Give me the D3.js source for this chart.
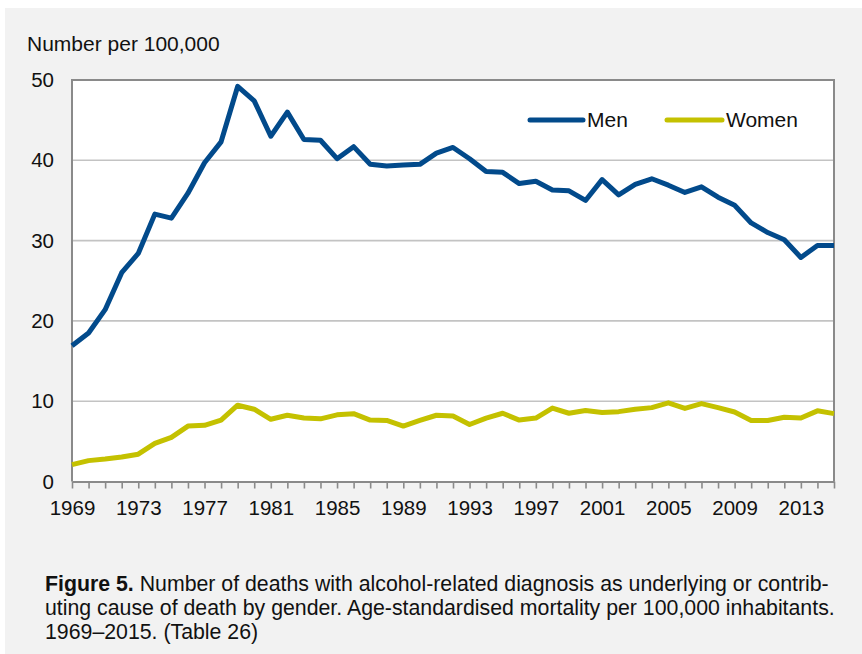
<!DOCTYPE html>
<html>
<head>
<meta charset="utf-8">
<script src="https://cdn.jsdelivr.net/npm/d3@7"></script>
<style>
  html, body { margin: 0; padding: 0; background: #ffffff; }
  svg { display: block; }
  text { font-family: "Liberation Sans", Arial, sans-serif; fill: #111; }
</style>
</head>
<body>
<svg id="chart" width="862" height="654"></svg>
<script>
const years = d3.range(1969, 2016);
const men = [16.9, 18.5, 21.4, 26.0, 28.4, 33.3, 32.8, 35.9, 39.7, 42.3,
             49.2, 47.4, 43.0, 46.0, 42.6, 42.5, 40.2, 41.7, 39.5, 39.3,
             39.4, 39.5, 40.9, 41.6, 40.2, 38.6, 38.5, 37.1, 37.4, 36.3,
             36.2, 35.0, 37.6, 35.7, 37.0, 37.7, 36.9, 36.0, 36.7, 35.4,
             34.4, 32.2, 31.0, 30.1, 27.9, 29.4, 29.4];
const women = [2.1, 2.6, 2.8, 3.05, 3.4, 4.75, 5.5, 6.9, 7.0, 7.65,
               9.5, 9.0, 7.75, 8.25, 7.9, 7.8, 8.3, 8.45, 7.65, 7.6,
               6.9, 7.6, 8.25, 8.15, 7.1, 7.9, 8.5, 7.65, 7.9, 9.15,
               8.5, 8.85, 8.6, 8.7, 9.0, 9.2, 9.8, 9.1, 9.7, 9.2,
               8.65, 7.6, 7.6, 8.0, 7.9, 8.8, 8.45];
const seriesNames = ["Men", "Women"];
const seriesColors = ["#024a8b", "#c4c100"];
const xTickLabels = [1969, 1973, 1977, 1981, 1985, 1989, 1993, 1997, 2001, 2005, 2009, 2013];
const yTicks = [0, 10, 20, 30, 40, 50];
const yAxisTitle = "Number per 100,000";
const captionBold = "Figure 5.";
const captionLines = [
  " Number of deaths with alcohol-related diagnosis as underlying or contrib-",
  "uting cause of death by gender. Age-standardised mortality per 100,000 inhabitants.",
  "1969\u20132015. (Table 26)"
];

const svg = d3.select("#chart");
const W = 862, H = 654;
const plot = { left: 72, right: 834, top: 80, bottom: 481.5 };
const FS = "21px";
const CAP_FS = "21.3px";

// gray panel background
svg.append("rect").attr("x", 5).attr("y", 8).attr("width", W - 5).attr("height", H - 8)
  .attr("fill", "#f2f2f2");

const x = d3.scaleLinear().domain([1969, 2015]).range([plot.left, plot.right]);
const y = d3.scaleLinear().domain([0, 50]).range([plot.bottom, plot.top]);

// plot area
svg.append("rect").attr("x", plot.left).attr("y", plot.top)
  .attr("width", plot.right - plot.left).attr("height", plot.bottom - plot.top)
  .attr("fill", "#ffffff");

// gridlines
svg.append("g").selectAll("line").data(yTicks.filter(d => d > 0 && d < 50)).join("line")
  .attr("x1", plot.left).attr("x2", plot.right)
  .attr("y1", d => y(d)).attr("y2", d => y(d))
  .attr("stroke", "#c3c3c3").attr("stroke-width", 1.6);

// border: top, left, right
const borderColor = "#8a8a8a";
svg.append("path")
  .attr("d", `M${plot.left},${plot.bottom}V${plot.top}H${plot.right}V${plot.bottom}`)
  .attr("fill", "none").attr("stroke", borderColor).attr("stroke-width", 2);

// x axis
const xAxis = d3.axisBottom(x).tickValues(years).tickSize(7).tickSizeOuter(0)
  .tickFormat(d => xTickLabels.includes(d) ? String(d) : "");
const gx = svg.append("g").attr("transform", `translate(0,${plot.bottom})`).call(xAxis);
gx.select(".domain").attr("stroke", borderColor).attr("stroke-width", 2);
gx.selectAll(".tick line").attr("stroke", borderColor).attr("stroke-width", 1.6);
gx.selectAll(".tick text").attr("dy", null).attr("y", 33.5)
  .style("font-family", '"Liberation Sans", Arial, sans-serif')
  .style("font-size", "20.5px").attr("fill", "#111");

// y axis labels
const yAxis = d3.axisLeft(y).tickValues(yTicks).tickSize(0).tickPadding(18);
const gy = svg.append("g").attr("transform", `translate(${plot.left},0)`).call(yAxis);
gy.select(".domain").remove();
gy.selectAll(".tick text")
  .style("font-family", '"Liberation Sans", Arial, sans-serif')
  .style("font-size", "20.5px").attr("fill", "#111");

// y axis title
svg.append("text").attr("x", 27).attr("y", 51).style("font-size", FS).text(yAxisTitle);

// lines
const line = d3.line().x((d, i) => x(years[i])).y(d => y(d));
[men, women].forEach((vals, k) => {
  svg.append("path").datum(vals)
    .attr("d", line)
    .attr("fill", "none")
    .attr("stroke", seriesColors[k])
    .attr("stroke-width", 5)
    .attr("stroke-linejoin", "round")
    .attr("stroke-linecap", "butt");
});

// legend
const legendItems = [
  { x1: 530, x2: 583, tx: 587 },
  { x1: 667, x2: 722, tx: 726 }
];
legendItems.forEach((it, k) => {
  svg.append("line").attr("x1", it.x1).attr("x2", it.x2).attr("y1", 120).attr("y2", 120)
    .attr("stroke", seriesColors[k]).attr("stroke-width", 5).attr("stroke-linecap", "round");
  svg.append("text").attr("x", it.tx).attr("y", 127).style("font-size", FS)
    .text(seriesNames[k]);
});

// caption
const cap = svg.append("g");
const t0 = cap.append("text").attr("x", 45).attr("y", 591).style("font-size", CAP_FS);
t0.append("tspan").style("font-weight", "bold").text(captionBold);
t0.append("tspan").text(captionLines[0]);
cap.append("text").attr("x", 45).attr("y", 615).style("font-size", CAP_FS).text(captionLines[1]);
cap.append("text").attr("x", 45).attr("y", 639).style("font-size", CAP_FS).text(captionLines[2]);
</script>
</body>
</html>
